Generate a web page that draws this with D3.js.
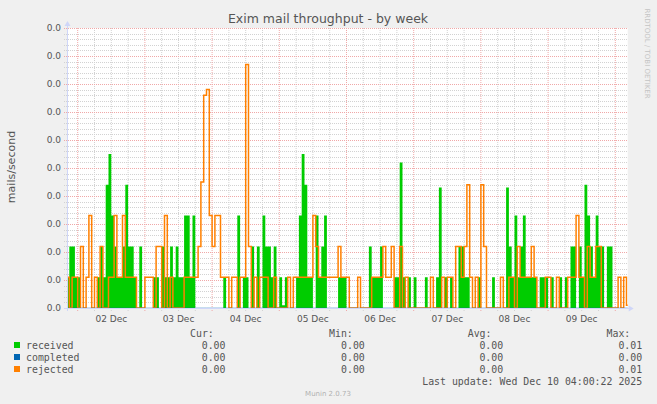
<!DOCTYPE html>
<html><head><meta charset="utf-8">
<script src="https://cdn.jsdelivr.net/npm/d3@7"></script>
<style>
html,body{margin:0;padding:0;background:#f0f0f0;}
svg{display:block;}
</style></head><body>
<svg id="c" width="657" height="404"></svg>
<script>
// ---- data (hourly averages, mails/second) ----
const chartTitle = "Exim mail throughput - by week";
const yAxisLabel = "mails/second";
const startTime = Date.UTC(2025, 11, 1, 20, 0);   // first sample
const endTime = Date.UTC(2025, 11, 10, 4, 26);    // right edge of graph
const stepMs = 3600 * 1000;
const dayLabels = ["02 Dec","03 Dec","04 Dec","05 Dec","06 Dec","07 Dec","08 Dec","09 Dec"];
const dayLabelTimes = [Date.UTC(2025,11,2,12),Date.UTC(2025,11,3,12),Date.UTC(2025,11,4,12),Date.UTC(2025,11,5,12),
  Date.UTC(2025,11,6,12),Date.UTC(2025,11,7,12),Date.UTC(2025,11,8,12),Date.UTC(2025,11,9,12)];
const yTicks = [0,0.001,0.002,0.003,0.004,0.005,0.006,0.007,0.008,0.009,0.010];
const yTickLabels = ["0.0","0.0","0.0","0.0","0.0","0.0","0.0","0.0","0.0","0.0","0.0"];

const received = [
.0011,.0022,.0022,.0011,.0011,0,0,0,0,0,
0,.0011,.0022,.0011,.0044,.0055,.0033,.0022,.0011,.0011,
.0022,.0044,.0022,.0022,.0011,0,.0022,0,0,0,
0,.0011,.0011,0,.0022,.0011,.0011,.0022,.0011,.0022,
.0011,.0011,.0033,.0033,.0011,.0033,0,0,0,0,
0,0,0,0,0,0,.0011,0,0,0,
0,.0033,0,.0011,.0011,0,.0022,0,.0022,0,
.0033,.0022,.0022,.0011,.0022,0,.0011,.0001,.0011,0,
0,0,.0011,.0033,.0055,.0044,.0011,.0011,0,.0033,
.0011,.0022,.0033,0,0,0,0,.0011,.0011,.0011,
0,0,0,0,0,0,0,0,.0022,.0011,
.0011,.0011,.0022,0,0,0,0,.0011,.0011,.0052,
.0011,0,.0011,0,.0011,0,0,0,.0011,0,
0,0,.0011,.0043,0,.0011,0,.0011,0,0,
.0022,.0022,.0011,.0011,0,0,0,.0011,0,0,
0,0,.0011,0,0,0,0,.0043,.0022,.0011,
.0033,.0011,.0022,.0033,.0011,.0011,.0011,.0011,0,.0011,
.0011,.0011,0,.0011,0,0,.0011,0,.0011,0,
.0022,.0022,0,.0022,.0011,.0044,.0033,.0022,.0011,.0033,
.0022,.0022,0,.0022,.0022,0,0,0,0,0,
0];

const completed = [
0,0,0,0,0,0,0,0,0,0, 0,0,0,0,0,0,0,0,0,0, 0,0,0,0,0,0,0,0,0,0, 0,0,0,0,0,0,0,0,0,0,
0,0,0,0,0,0,0,0,0,0, 0,0,0,0,0,0,0,0,0,0, 0,0,0,0,0,0,0,0,0,0, 0,0,0,0,0,0,0,0,0,0,
0,0,0,0,0,0,0,0,0,0, 0,0,0,0,0,0,0,0,0,0, 0,0,0,0,0,0,0,0,0,0, 0,0,0,0,0,0,0,0,0,0,
0,0,0,0,0,0,0,0,0,0, 0,0,0,0,0,0,0,0,0,0, 0,0,0,0,0,0,0,0,0,0, 0,0,0,0,0,0,0,0,0,0,
0,0,0,0,0,0,0,0,0,0, 0,0,0,0,0,0,0,0,0,0, 0,0,0,0,0,0,0,0,0,0, 0,0,0,0,0,0,0,0,0,0,
0];

const rejected = [
.0011,0,.0011,.0011,0,.0022,0,.0011,.0033,0,
.0011,0,.0022,0,0,.0011,.0011,.0033,.0011,.0011,
.0033,.0011,.0011,.0011,.0011,0,0,0,.0011,.0011,
.0011,0,.0022,.0022,0,.0033,0,.0011,0,0,
0,0,.0011,.0011,.0011,.0011,.0011,.0022,.0045,.0076,
.0078,.0033,.0022,.0033,.0033,.0011,.0011,.0011,0,.0011,
.0011,0,.0011,.0011,.0087,.0022,0,.0011,0,.0011,
.0011,.0011,0,0,.0011,0,0,0,0,.0011,
0,.0011,.0011,.0011,.0011,.0011,.0011,.0011,.0033,.0022,
.0011,.0011,.0011,.0011,.0011,.0011,.0011,.0022,.0011,.0011,
.0011,0,0,0,.0011,0,0,0,0,.0011,
.0011,.0011,.0011,.0022,.0011,.0011,.0022,0,0,.0022,
0,.0011,0,0,0,0,0,0,0,0,
.0011,0,0,0,.0011,0,.0011,.0011,0,.0022,
.0022,.0011,.0022,.0044,.0011,0,.0011,0,.0044,.0022,
0,0,0,0,0,.0011,0,0,.0011,.0011,
0,.0022,.0011,.0011,.0011,.0011,.0022,.0011,0,0,
0,.0011,.0011,0,0,.0011,0,0,0,.0011,
.0011,.0011,.0033,.0011,.0011,0,.0022,.0011,.0011,.0022,
.0022,0,0,0,0,0,0,.0011,0,.0011,
.0001];

const legendNames = ["received","completed","rejected"];
const legendColors = ["#00cc00","#0066b3","#ff8000"];
const legendCur = ["0.00","0.00","0.00"];
const legendMin = ["0.00","0.00","0.00"];
const legendAvg = ["0.00","0.00","0.00"];
const legendMax = ["0.01","0.00","0.01"];
const lastUpdate = "Last update: Wed Dec 10 04:00:22 2025";
const footer = "Munin 2.0.73";
const watermark = "RRDTOOL / TOBI OETIKER";

// ---- drawing ----
const svg = d3.select("#c");
const L = 67, R = 627.7, T = 28, B = 308;
const x = d3.scaleUtc().domain([startTime, endTime]).range([66.5, R]);
const y = d3.scaleLinear().domain([0, 0.010]).range([B, T]);

svg.append("rect").attr("x",0).attr("y",0).attr("width",657).attr("height",404).attr("fill","#f0f0f0");
svg.append("rect").attr("x",L).attr("y",T).attr("width",R-L).attr("height",B-T).attr("fill","#ffffff");

// minor horizontal grid
const minorY = d3.range(0, 0.0100001, 0.0002).filter(v => Math.abs(v*1000 - Math.round(v*1000)) > 1e-6);
svg.append("g").selectAll("line").data(minorY).join("line")
  .attr("x1", L-3).attr("x2", R).attr("y1", d => Math.round(y(d))+0.5).attr("y2", d => Math.round(y(d))+0.5)
  .attr("stroke","#d2d2d2").attr("stroke-dasharray","1,1").attr("stroke-width",1);
// minor vertical grid (6h)
const minorX = d3.utcHour.every(6).range(new Date(startTime), new Date(endTime)).filter(d => d.getUTCHours() !== 0);
svg.append("g").selectAll("line").data(minorX).join("line")
  .attr("x1", d => x(d)).attr("x2", d => x(d)).attr("y1", T).attr("y2", B+3)
  .attr("stroke","#d2d2d2").attr("stroke-dasharray","1,1").attr("stroke-width",1);
// major horizontal grid
svg.append("g").selectAll("line").data(yTicks).join("line")
  .attr("x1", L-3).attr("x2", R).attr("y1", d => Math.round(y(d))+0.5).attr("y2", d => Math.round(y(d))+0.5)
  .attr("stroke","#f0a8a8").attr("stroke-dasharray","1,1").attr("stroke-width",1);
// major vertical grid (midnight)
const majorX = d3.utcDay.range(new Date(startTime), new Date(endTime));
svg.append("g").selectAll("line").data(majorX).join("line")
  .attr("x1", d => x(d)).attr("x2", d => x(d)).attr("y1", T).attr("y2", B+3)
  .attr("stroke","#f0a8a8").attr("stroke-dasharray","1,1").attr("stroke-width",1);

// data
const clip = svg.append("defs").append("clipPath").attr("id","plot");
clip.append("rect").attr("x",L).attr("y",0).attr("width",R-L).attr("height",B+1);
const toPts = arr => {
  const p = arr.map((v,i) => ({t: startTime + i*stepMs, v}));
  p.push({t: startTime + arr.length*stepMs, v: arr[arr.length-1]});
  return p;
};
const g = svg.append("g").attr("clip-path","url(#plot)");
g.append("path").datum(toPts(received))
  .attr("d", d3.area().x(d => x(d.t)).y0(y(0)).y1(d => y(d.v)).curve(d3.curveStepAfter))
  .attr("fill","#00cc00");
g.append("path").datum(toPts(rejected))
  .attr("d", d3.line().x(d => x(d.t)).y(d => y(d.v)).curve(d3.curveStepAfter))
  .attr("fill","none").attr("stroke","#ff8000").attr("stroke-width",1.5);

// axes
const axisCol = "#CFD6F8";
svg.append("line").attr("x1",L-3).attr("x2",R+2).attr("y1",B+0.5).attr("y2",B+0.5).attr("stroke",axisCol);
svg.append("line").attr("x1",L+0.5).attr("x2",L+0.5).attr("y1",B+3).attr("y2",T-4).attr("stroke",axisCol);
svg.append("path").attr("d",`M${L-2.5},${T-2}L${L+3.5},${T-2}L${L+0.5},${T-7}Z`).attr("fill",axisCol);
svg.append("path").attr("d",`M${R+1},${B-2.5}L${R+1},${B+3.5}L${R+6},${B+0.5}Z`).attr("fill",axisCol);
g.append("path").datum(toPts(completed))
  .attr("d", d3.line().x(d => x(d.t)).y(d => y(d.v)).curve(d3.curveStepAfter))
  .attr("fill","none").attr("stroke","#0066b3").attr("stroke-opacity",0.45).attr("stroke-width",1);

// tick labels
const font = "DejaVu Sans, sans-serif";
svg.append("g").selectAll("text").data(yTicks).join("text")
  .attr("x", 61).attr("y", d => y(d) + 3.3).attr("text-anchor","end")
  .attr("font-family", font).attr("font-size", 9).attr("fill","#555")
  .text((d,i) => yTickLabels[i]);
svg.append("g").selectAll("text").data(dayLabelTimes).join("text")
  .attr("x", d => x(d)).attr("y", 322).attr("text-anchor","middle")
  .attr("font-family", font).attr("font-size", 9).attr("fill","#555")
  .text((d,i) => dayLabels[i]);

// titles
svg.append("text").attr("x",328).attr("y",23).attr("text-anchor","middle")
  .attr("font-family",font).attr("font-size",12.5).attr("fill","#555").text(chartTitle);
svg.append("text").attr("transform","translate(15,167) rotate(-90)").attr("text-anchor","middle")
  .attr("font-family",font).attr("font-size",11).attr("fill","#555").text(yAxisLabel);
svg.append("text").attr("transform","translate(645,53.5) rotate(90)").attr("text-anchor","middle")
  .attr("font-family",font).attr("font-size",7).attr("fill","#c4c4c4").text(watermark);

// legend
const mono = "DejaVu Sans Mono, monospace";
const lg = svg.append("g").attr("font-family",mono).attr("font-size",9.9).attr("fill","#555");
[["Cur:",213.8],["Min:",352.8],["Avg:",491.5],["Max:",630.3]].forEach(([t,xx]) =>
  lg.append("text").attr("x",xx).attr("y",336.5).attr("text-anchor","end").text(t));
legendNames.forEach((n,i) => {
  const yy = 348.5 + i*12;
  svg.append("rect").attr("x",14).attr("y",yy-6.5).attr("width",6).attr("height",6).attr("fill",legendColors[i]);
  lg.append("text").attr("x",26).attr("y",yy).text(n);
  lg.append("text").attr("x",225.5).attr("y",yy).attr("text-anchor","end").text(legendCur[i]);
  lg.append("text").attr("x",364.8).attr("y",yy).attr("text-anchor","end").text(legendMin[i]);
  lg.append("text").attr("x",503.2).attr("y",yy).attr("text-anchor","end").text(legendAvg[i]);
  lg.append("text").attr("x",642.2).attr("y",yy).attr("text-anchor","end").text(legendMax[i]);
});
lg.append("text").attr("x",642.2).attr("y",384.5).attr("text-anchor","end").text(lastUpdate);
svg.append("text").attr("x",328).attr("y",396).attr("text-anchor","middle")
  .attr("font-family",font).attr("font-size",7).attr("fill","#b0b0b0").text(footer);
</script>
</body></html>
